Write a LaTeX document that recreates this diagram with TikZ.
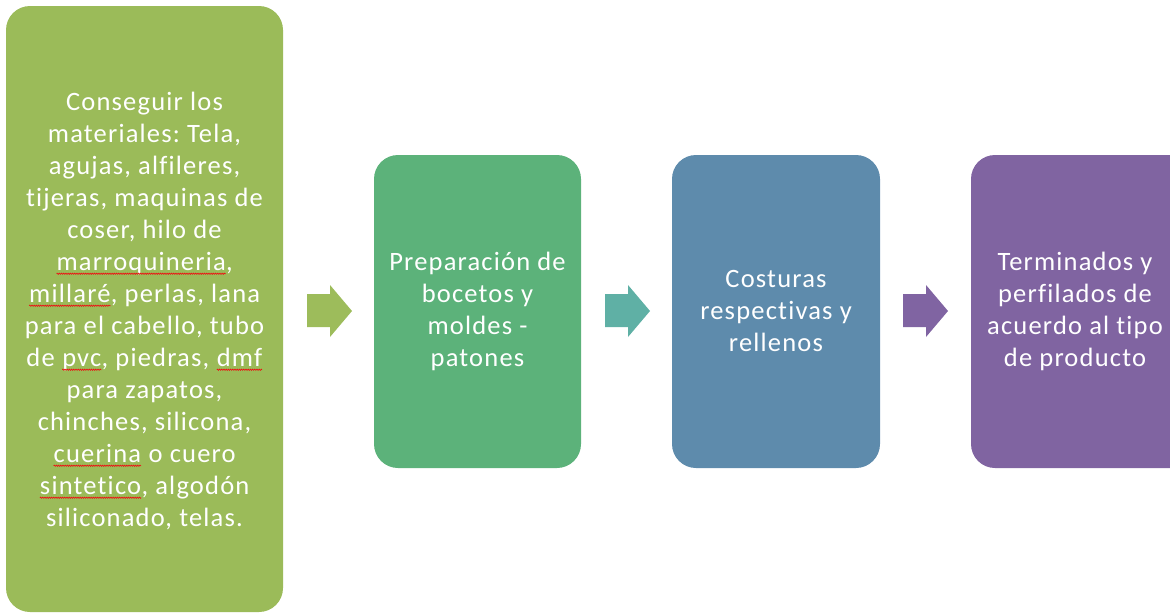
\documentclass[tikz,border=0pt]{standalone}
\usepackage{fontspec}
\setmainfont{Carlito}[Ligatures=NoCommon,LetterSpace=4.5]
\usetikzlibrary{decorations.pathmorphing}
\frenchspacing
\definecolor{cA}{RGB}{155,187,89}
\definecolor{cB}{RGB}{92,178,122}
\definecolor{cC}{RGB}{94,139,172}
\definecolor{cD}{RGB}{128,100,161}
\definecolor{aA}{RGB}{157,188,91}
\definecolor{aB}{RGB}{95,176,165}
\definecolor{aC}{RGB}{128,100,162}
\definecolor{sq}{RGB}{235,20,20}
\newcommand\sqm[1]{\tikz[baseline=(w.base)]{\node[inner sep=0pt,outer sep=0pt,text=white] (w) {#1};\draw[sq,line width=0.7pt,decorate,decoration={zigzag,segment length=2.2pt,amplitude=0.6pt}] ([yshift=-3.2pt]w.base west) -- ([yshift=-3.2pt]w.base east);}}
\begin{document}
\begin{tikzpicture}[x=1pt,y=-1pt,
  stepbox/.style={rounded corners=24pt},
  boxtext/.style={text=white,align=center,font=\fontsize{26.5}{32}\selectfont,inner sep=0pt}]
\useasboundingbox (0,0) rectangle (1170,614);
\fill[cA,stepbox] (6,6) rectangle (283,612);
\fill[cB,stepbox] (374,155) rectangle (581,468);
\fill[cC,stepbox] (672,155) rectangle (880,468);
\begin{scope}
\clip (0,0) rectangle (1170,614);
\fill[cD,stepbox] (971,155) rectangle (1196,468);
\end{scope}
\node[boxtext] (t1) at (144.5,311) {Conseguir los\\materiales: Tela,\\agujas, alfileres,\\tijeras, maquinas de\\coser, hilo de\\\sqm{marroquineria},\\\sqm{millaré}, perlas, lana\\para el cabello, tubo\\de \sqm{pvc}, piedras, \sqm{dmf}\\para zapatos,\\chinches, silicona,\\\sqm{cuerina} o cuero\\\sqm{sintetico}, algodón\\siliconado, telas.};
\node[boxtext] (t2) at (477.5,311) {Preparación de\\bocetos y\\moldes -\\patones};
\node[boxtext] (t3) at (776,311) {Costuras\\respectivas y\\rellenos};
\node[boxtext] (t4) at (1075,311) {Terminados y\\perfilados de\\acuerdo al tipo\\de producto};
\fill[aA] (307,294) -- (330,294) -- (330,285) -- (352,311) -- (330,337) -- (330,327) -- (307,327) -- cycle;
\fill[aB] (605,294) -- (628,294) -- (628,285) -- (650,311) -- (628,337) -- (628,327) -- (605,327) -- cycle;
\fill[aC] (903,294) -- (926,294) -- (926,285) -- (948,311) -- (926,337) -- (926,327) -- (903,327) -- cycle;
\end{tikzpicture}
\end{document}
